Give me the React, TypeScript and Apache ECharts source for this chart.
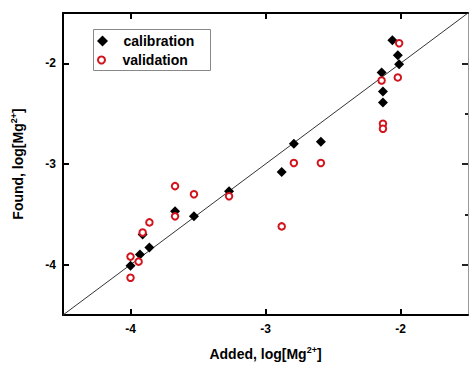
import React, { useEffect, useRef } from "react";
import * as echarts from "echarts";

const calAdded = [-4.0, -3.93, -3.86, -3.91, -3.67, -3.53, -3.27, -2.79, -2.59, -2.88, -2.06, -2.02, -2.01, -2.14, -2.13, -2.13];
const calFound = [-4.01, -3.9, -3.83, -3.7, -3.47, -3.52, -3.27, -2.8, -2.78, -3.08, -1.77, -1.92, -2.01, -2.09, -2.28, -2.39];

const valAdded = [-4.0, -4.0, -3.94, -3.91, -3.86, -3.67, -3.67, -3.53, -3.27, -2.79, -2.59, -2.88, -2.01, -2.14, -2.02, -2.13, -2.13];
const valFound = [-4.13, -3.92, -3.97, -3.68, -3.58, -3.52, -3.22, -3.3, -3.32, -2.99, -2.99, -3.62, -1.8, -2.17, -2.14, -2.6, -2.65];

const majorTicks = [-4, -3, -2];
const minorTicks = [-3.5, -2.5];
const axisMin = -4.5;
const axisMax = -1.5;

const FONT = "'Liberation Sans', Arial, sans-serif";
const RED = "#d2141c";

export default function App() {
  const ref = useRef<HTMLDivElement>(null);
  useEffect(() => {
    if (!ref.current) return;
    const chart = echarts.init(ref.current, null, { renderer: "svg" });
    const titleRich = {
      sup: { fontSize: 9, fontWeight: "bold", fontFamily: FONT, color: "#000", verticalAlign: "top", lineHeight: 14 },
      n: { fontSize: 14, fontWeight: "bold", fontFamily: FONT, color: "#000", lineHeight: 18 },
    };
    const legendText = { fontSize: 14, fontWeight: "bold", color: "#000", fontFamily: FONT };
    chart.setOption({
      animation: false,
      backgroundColor: "#fff",
      textStyle: { fontFamily: FONT },
      grid: { left: 63, right: 1, top: 13, bottom: 47, containLabel: false },
      graphic: [
        {
          type: "rect",
          left: 93,
          top: 29,
          shape: { width: 117, height: 41 },
          style: { fill: "#fff", stroke: "#888", lineWidth: 1 },
          z: 1,
        },
      ],
      legend: [
        {
          left: 97,
          top: 34,
          padding: 0,
          itemWidth: 32,
          itemHeight: 11,
          symbolKeepAspect: true,
          textStyle: legendText,
          data: [{ name: "calibration", icon: "path://M5,0 L10,5 L5,10 L0,5 Z" }],
          z: 5,
        },
        {
          left: 97,
          top: 53,
          padding: 0,
          itemWidth: 32,
          itemHeight: 7,
          symbolKeepAspect: true,
          textStyle: legendText,
          data: [{ name: "validation", icon: "circle" }],
          z: 5,
        },
      ],
      xAxis: [
        {
          type: "value",
          position: "bottom",
          min: axisMin,
          max: axisMax,
          interval: 0.5,
          name: "{n|Added, log[Mg}{sup|2+}{n|]}",
          nameLocation: "middle",
          nameGap: 30,
          nameTextStyle: { rich: titleRich },
          axisLine: { lineStyle: { color: "#000", width: 2 } },
          axisTick: { inside: true, length: 6, customValues: majorTicks, lineStyle: { color: "#000", width: 2 } },
          axisLabel: { customValues: majorTicks, margin: 8, fontSize: 12, fontWeight: "bold", color: "#000", fontFamily: FONT },
          splitLine: { show: false },
        },
        {
          type: "value",
          position: "top",
          min: axisMin,
          max: axisMax,
          interval: 0.5,
          axisLine: { lineStyle: { color: "#000", width: 2 } },
          axisTick: { inside: true, length: 6, customValues: majorTicks, lineStyle: { color: "#000", width: 2 } },
          axisLabel: { show: false },
          splitLine: { show: false },
        },
      ],
      yAxis: [
        {
          type: "value",
          position: "left",
          min: axisMin,
          max: axisMax,
          interval: 0.5,
          name: "{n|Found, log[Mg}{sup|2+}{n|]}",
          nameLocation: "middle",
          nameGap: 36,
          nameRotate: 90,
          nameTextStyle: { rich: titleRich },
          axisLine: { lineStyle: { color: "#000", width: 2 } },
          axisTick: { inside: true, length: 6, customValues: majorTicks, lineStyle: { color: "#000", width: 2 } },
          axisLabel: { customValues: majorTicks, margin: 7, fontSize: 12, fontWeight: "bold", color: "#000", fontFamily: FONT },
          splitLine: { show: false },
        },
        {
          type: "value",
          position: "right",
          min: axisMin,
          max: axisMax,
          interval: 0.5,
          axisLine: { lineStyle: { color: "#999", width: 1 } },
          axisTick: { inside: true, length: 6, customValues: majorTicks, lineStyle: { color: "#222", width: 2 } },
          axisLabel: { show: false },
          splitLine: { show: false },
        },
        {
          type: "value",
          position: "right",
          min: axisMin,
          max: axisMax,
          interval: 0.5,
          axisLine: { show: false },
          axisTick: { inside: true, length: 3, customValues: minorTicks, lineStyle: { color: "#222", width: 2 } },
          axisLabel: { show: false },
          splitLine: { show: false },
        },
      ],
      series: [
        {
          type: "line",
          name: "y=x",
          data: [[axisMin, axisMin], [axisMax, axisMax]],
          symbol: "none",
          lineStyle: { color: "#333", width: 1 },
          z: 1,
        },
        {
          type: "scatter",
          name: "calibration",
          symbol: "diamond",
          symbolSize: 10,
          itemStyle: { color: "#000", opacity: 1 },
          data: calAdded.map((x, i) => [x, calFound[i]]),
          z: 2,
        },
        {
          type: "scatter",
          name: "validation",
          symbol: "circle",
          symbolSize: 6.5,
          itemStyle: { color: "#fff", borderColor: RED, borderWidth: 2, opacity: 1 },
          data: valAdded.map((x, i) => [x, valFound[i]]),
          z: 3,
        },
      ],
    });
    return () => chart.dispose();
  }, []);
  return <div ref={ref} style={{ position: "fixed", left: 0, top: 0, width: 469, height: 366 }} />;
}
